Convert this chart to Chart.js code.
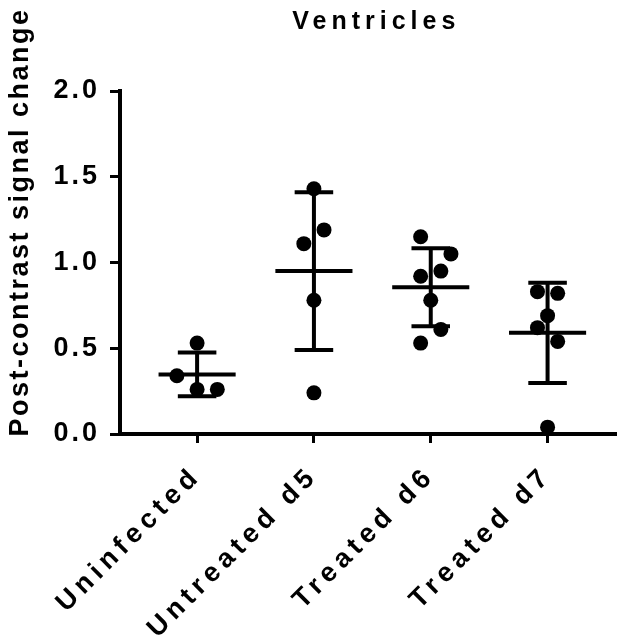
<!DOCTYPE html>
<html>
<head>
<meta charset="utf-8">
<script src="https://cdn.jsdelivr.net/npm/chart.js@4"></script>
<style>
  html, body { margin: 0; padding: 0; background: #fff; }
  canvas { display: block; }
</style>
</head>
<body>
<canvas id="ventriclesChart" width="624" height="638"></canvas>
<script>
// Groups and measured values (post-contrast signal change)
const groups = ['Uninfected', 'Untreated d5', 'Treated d6', 'Treated d7'];
const uninfected = [0.53, 0.34, 0.26, 0.26];
const untreatedD5 = [1.43, 1.19, 1.11, 0.78, 0.24];
const treatedD6 = [1.15, 1.05, 0.95, 0.92, 0.78, 0.61, 0.53];
const treatedD7 = [0.83, 0.82, 0.69, 0.62, 0.54, 0.04];
const yTicks = [0, 0.5, 1.0, 1.5, 2.0];

// horizontal scatter lanes for the dots (in lane units)
const lanesUninfected = [0, -1, 0, 1];
const lanesUntreatedD5 = [0, 0.5, -0.5, 0, 0];
const lanesTreatedD6 = [-0.5, 1, 0.5, -0.5, 0, 0.5, -0.5];
const lanesTreatedD7 = [-0.5, 0.5, 0, -0.5, 0.5, 0];

const values = [uninfected, untreatedD5, treatedD6, treatedD7];
const lanes = [lanesUninfected, lanesUntreatedD5, lanesTreatedD6, lanesTreatedD7];

const LANE = 0.173;     // x units per lane
const MEAN_HALF = 0.33; // half width of mean bar
const CAP_HALF = 0.165; // half width of SD caps
const FONT = '"Liberation Sans", Arial, sans-serif';

function mean(a) { return a.reduce((s, v) => s + v, 0) / a.length; }
function sd(a) {
    const m = mean(a);
    return Math.sqrt(a.reduce((s, v) => s + (v - m) * (v - m), 0) / (a.length - 1));
}

const dots = [];
const meanBars = [];
const sdLines = [];
values.forEach((vals, i) => {
    const cx = i + 1;
    vals.forEach((v, j) => dots.push({ x: cx + lanes[i][j] * LANE, y: v }));
    const m = mean(vals), s = sd(vals);
    meanBars.push({ x: cx - MEAN_HALF, y: m }, { x: cx + MEAN_HALF, y: m }, { x: cx, y: null });
    sdLines.push({ x: cx, y: m - s }, { x: cx, y: m + s }, { x: cx, y: null });
    sdLines.push({ x: cx - CAP_HALF, y: m + s }, { x: cx + CAP_HALF, y: m + s }, { x: cx, y: null });
    sdLines.push({ x: cx - CAP_HALF, y: m - s }, { x: cx + CAP_HALF, y: m - s }, { x: cx, y: null });
});

// canvas letterSpacing for the wide-tracked labels
function spaced(obj, name, sp, dx) {
    if (!obj || obj[name]._spaced) return;
    const orig = obj[name];
    const fn = function (...args) {
        const ctx = this.ctx;
        ctx.save();
        ctx.letterSpacing = sp;
        ctx.translate(dx || 0, 0);
        orig.apply(this, args);
        ctx.restore();
    };
    fn._spaced = true;
    obj[name] = fn;
}

const spacingPlugin = {
    id: 'spacing',
    beforeDraw(chart) {
        spaced(chart.scales.x, 'drawLabels', '5.3px');
        spaced(chart.scales.y, 'drawLabels', '3px');
        spaced(chart.titleBlock, 'draw', '5px', 8);
    }
};

const yTitlePlugin = {
    id: 'yTitle',
    afterDraw(chart) {
        const ctx = chart.ctx;
        ctx.save();
        ctx.translate(21, 222);
        ctx.rotate(-Math.PI / 2);
        ctx.font = 'bold 27px ' + FONT;
        ctx.letterSpacing = '2.5px';
        ctx.fillStyle = '#000';
        ctx.textAlign = 'center';
        ctx.textBaseline = 'middle';
        ctx.fillText('Post-contrast signal change', 0, 0);
        ctx.restore();
    }
};

const axisFont = { family: FONT, size: 27, weight: 'bold' };

new Chart(document.getElementById('ventriclesChart'), {
    type: 'scatter',
    data: {
        datasets: [{
            type: 'line',
            data: meanBars,
            borderColor: '#000',
            borderWidth: 4,
            pointRadius: 0,
            spanGaps: false
        }, {
            type: 'line',
            data: sdLines,
            borderColor: '#000',
            borderWidth: 4,
            pointRadius: 0,
            spanGaps: false
        }, {
            data: dots,
            backgroundColor: '#000',
            borderWidth: 0,
            pointRadius: 7.5,
            clip: false
        }]
    },
    options: {
        responsive: false,
        animation: false,
        layout: { padding: 0 },
        plugins: {
            legend: { display: false },
            tooltip: { enabled: false },
            title: {
                display: true,
                text: 'Ventricles',
                fullSize: false,
                color: '#000',
                font: { family: FONT, size: 25, weight: 'bold' },
                padding: { top: 7, bottom: 54 }
            }
        },
        scales: {
            x: {
                type: 'linear',
                min: 0.34,
                max: 4.59,
                bounds: 'data',
                afterBuildTicks: s => { s.ticks = groups.map((g, i) => ({ value: i + 1 })); },
                afterFit: s => { s.height = 204; },
                ticks: {
                    autoSkip: false,
                    minRotation: 45,
                    maxRotation: 45,
                    padding: 17,
                    color: '#000',
                    font: axisFont,
                    callback: (v, i) => groups[i]
                },
                grid: { drawOnChartArea: false, tickLength: 9, tickWidth: 3, tickColor: '#000' },
                border: { color: '#000', width: 4 }
            },
            y: {
                min: 0,
                max: 2,
                afterBuildTicks: s => { s.ticks = yTicks.map(v => ({ value: v })); },
                afterFit: s => { s.width = 120; },
                ticks: {
                    padding: 10,
                    color: '#000',
                    font: axisFont,
                    callback: v => v.toFixed(1)
                },
                grid: { drawOnChartArea: false, tickLength: 10, tickWidth: 3, tickColor: '#000' },
                border: { color: '#000', width: 4 }
            }
        }
    },
    plugins: [spacingPlugin, yTitlePlugin]
});
</script>
</body>
</html>
